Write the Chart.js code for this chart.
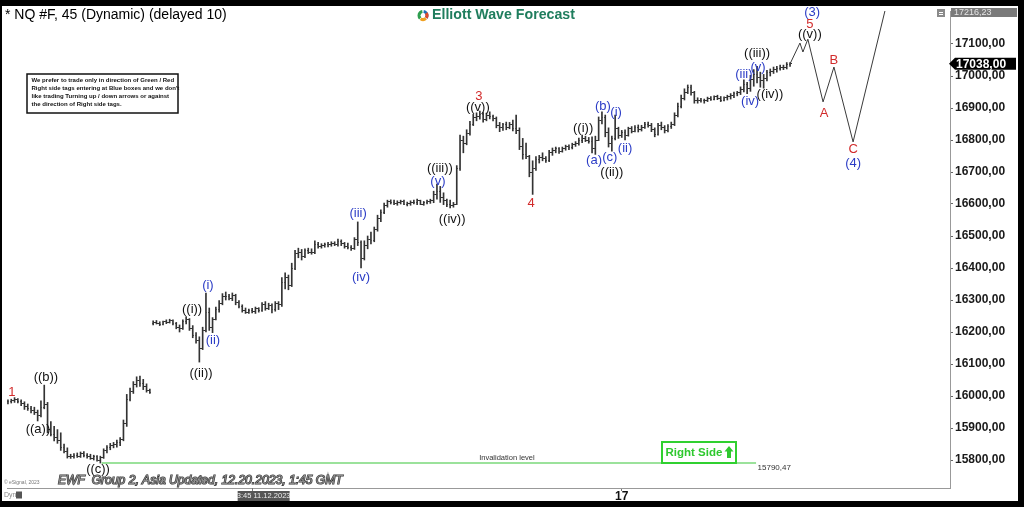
<!DOCTYPE html>
<html><head><meta charset="utf-8">
<script src="https://cdn.jsdelivr.net/npm/chart.js@4.4.0/dist/chart.umd.min.js"></script>
<style>
html,body{margin:0;padding:0;background:#000;width:1024px;height:507px;overflow:hidden}
#wrap{position:absolute;left:2px;top:6px;width:1016px;height:495px;background:#fff}
canvas{display:block}
</style></head><body>
<div id="wrap"><canvas id="c" width="1016" height="495"></canvas></div>
<script>
// ---- DATA (45-min OHLC bars, index = bar number) ----
const opens = [
15978,15982,15984,15986,15988,15984,15976,15968,15962,15955,
15948,15940,15965,15975,15895,15880,15870,15862,15840,15828,
15812,15812,15815,15810,15820,15814,15812,15806,15810,15800,
15808,15830,15838,15845,15848,15855,15865,15915,15990,16015,
16035,16050,16040,16030,16018,16228,16230,16228,16225,16232,
16230,16236,16226,16215,16210,16232,16240,16212,16190,16172,
16150,16205,16260,16215,16240,16270,16290,16310,16312,16305,
16315,16292,16280,16268,16262,16268,16265,16272,16266,16285,
16275,16282,16270,16288,16285,16355,16370,16345,16400,16445,
16450,16435,16455,16450,16448,16475,16468,16470,16472,16475,
16478,16474,16482,16476,16468,16465,16460,16488,16480,16430,
16470,16490,16485,16520,16555,16575,16595,16608,16606,16602,
16605,16608,16600,16602,16606,16604,16610,16600,16604,16608,
16610,16630,16640,16620,16610,16598,16595,16600,16710,16800,
16790,16820,16850,16870,16875,16880,16865,16878,16872,16866,
16845,16840,16848,16838,16850,16835,16830,16780,16755,16750,
16700,16710,16738,16745,16742,16735,16760,16768,16772,16765,
16775,16780,16776,16786,16790,16800,16805,16800,16795,16775,
16800,16860,16870,16825,16790,16805,16835,16815,16825,16815,
16835,16828,16838,16832,16840,16850,16845,16832,16818,16845,
16838,16830,16842,16850,16878,16905,16930,16950,16965,16950,
16922,16925,16922,16925,16930,16928,16935,16930,16925,16932,
16936,16940,16945,16948,16958,16975,16960,16990,17005,16995,
16985,16992,17010,17015,17020,17025,17028,17026,17035];
const highs = [
15988,15988,15990,15995,15992,15988,15982,15975,15968,15965,
15956,15985,16034,15980,15920,15905,15895,15885,15850,15838,
15818,15820,15822,15825,15826,15820,15818,15815,15814,15812,
15835,15845,15852,15855,15862,15870,15925,16005,16025,16045,
16060,16062,16052,16038,16022,16235,16236,16232,16234,16238,
16240,16238,16230,16222,16238,16248,16242,16220,16198,16185,
16215,16322,16275,16245,16278,16298,16320,16325,16318,16322,
16318,16298,16285,16275,16272,16274,16278,16276,16292,16295,
16290,16288,16295,16295,16370,16385,16378,16415,16455,16462,
16458,16460,16462,16460,16485,16480,16476,16478,16480,16482,
16482,16490,16488,16480,16478,16470,16495,16544,16485,16485,
16500,16512,16528,16565,16582,16603,16612,16613,16612,16610,
16612,16612,16606,16610,16612,16615,16612,16608,16612,16615,
16640,16662,16655,16635,16615,16612,16605,16720,16815,16812,
16832,16858,16880,16885,16890,16886,16884,16888,16878,16872,
16855,16852,16856,16855,16862,16878,16838,16805,16790,16752,
16735,16748,16752,16760,16748,16768,16775,16778,16776,16778,
16784,16785,16790,16795,16806,16815,16812,16808,16810,16812,
16872,16888,16878,16838,16812,16878,16840,16830,16832,16840,
16842,16845,16847,16846,16855,16856,16852,16838,16852,16856,
16845,16848,16856,16885,16915,16940,16960,16972,16972,16952,
16932,16930,16928,16934,16936,16938,16940,16936,16935,16940,
16945,16950,16952,16966,16988,16980,17002,17020,17030,17012,
17005,17018,17022,17028,17030,17034,17034,17042,17042];
const lows = [
15972,15975,15978,15980,15978,15970,15958,15955,15947,15942,
15922,15935,15960,15885,15875,15860,15852,15830,15822,15806,
15805,15806,15808,15808,15810,15806,15802,15800,15796,15790.47,
15805,15822,15832,15838,15840,15845,15860,15905,15985,16008,
16028,16030,16020,16012,16008,16222,16225,16220,16222,16226,
16228,16222,16210,16200,16208,16225,16205,16182,16165,16106,
16145,16200,16205,16198,16238,16262,16285,16300,16300,16298,
16285,16275,16262,16258,16258,16260,16258,16262,16264,16268,
16270,16260,16265,16270,16280,16335,16332,16342,16395,16432,
16425,16432,16445,16443,16445,16462,16462,16465,16466,16468,
16470,16468,16470,16462,16460,16455,16458,16470,16400,16425,
16460,16475,16482,16515,16545,16570,16590,16600,16598,16596,
16600,16598,16594,16596,16600,16598,16598,16596,16600,16602,
16604,16615,16605,16598,16592,16588,16590,16598,16705,16760,
16785,16815,16845,16860,16865,16856,16860,16866,16860,16838,
16826,16830,16832,16835,16828,16820,16770,16740,16742,16685,
16630,16705,16728,16735,16730,16732,16752,16760,16758,16762,
16768,16770,16772,16780,16784,16792,16795,16790,16760,16755,
16798,16850,16810,16778,16765,16800,16805,16808,16800,16812,
16822,16825,16825,16828,16836,16840,16826,16810,16815,16832,
16822,16825,16836,16845,16872,16900,16925,16945,16940,16915,
16915,16918,16915,16920,16924,16925,16926,16920,16922,16925,
16928,16932,16938,16942,16950,16945,16952,16968,16978,16965,
16962,16985,17000,17008,17012,17018,17020,17022,17030];
const closes = [
15982,15984,15986,15988,15984,15976,15968,15962,15955,15948,
15940,15965,15975,15895,15880,15870,15862,15840,15828,15812,
15812,15815,15810,15820,15814,15812,15806,15810,15800,15808,
15830,15838,15845,15848,15855,15865,15915,15990,16015,16035,
16050,16040,16030,16018,16012,16230,16228,16225,16232,16230,
16236,16226,16215,16210,16232,16240,16212,16190,16172,16150,
16205,16260,16215,16240,16270,16290,16310,16312,16305,16315,
16292,16280,16268,16262,16268,16265,16272,16266,16285,16275,
16282,16270,16288,16285,16355,16370,16345,16400,16445,16450,
16435,16455,16450,16448,16475,16468,16470,16472,16475,16478,
16474,16482,16476,16468,16465,16460,16488,16480,16430,16470,
16490,16485,16520,16555,16575,16595,16608,16606,16602,16605,
16608,16600,16602,16606,16604,16610,16600,16604,16608,16610,
16630,16640,16620,16610,16598,16595,16600,16710,16800,16790,
16820,16850,16870,16875,16880,16865,16878,16872,16866,16845,
16840,16848,16838,16850,16835,16830,16780,16755,16750,16700,
16710,16738,16745,16742,16735,16760,16768,16772,16765,16775,
16780,16776,16786,16790,16800,16805,16800,16795,16775,16800,
16860,16870,16825,16790,16805,16835,16815,16825,16815,16835,
16828,16838,16832,16840,16850,16845,16832,16818,16845,16838,
16830,16842,16850,16878,16905,16930,16950,16965,16950,16922,
16925,16922,16925,16930,16928,16935,16930,16925,16932,16936,
16940,16945,16948,16958,16975,16960,16990,17005,16995,16985,
16992,17010,17015,17020,17025,17028,17026,17035,17038];

const priceTicks = [15800,15900,16000,16100,16200,16300,16400,16500,16600,16700,16800,16900,17000,17100];
const dayTickIndex = [187];
const dayTickLabels = ['17'];
const cursorIndex = 75;
const cursorLabel = '3:45 11.12.2023';
const topPriceLabel = '17216,23';

// projected path (bar index, price)
const projIdx   = [238, 241, 241.9, 243.4, 248, 251.3, 257.1, 267.5];
const projPrice = [17038, 17103, 17075, 17115, 16919, 17028, 16794, 17235];

const invalidationLevel = 15790.47;
const invalidationSpan = [29.4, 227.7];

// wave labels: text, bar index, price
const waveLabels = [
 ['1',2.2,16012],['((b))',12.5,16059],['((a))',10.1,15894],['((c))',28.3,15772],
 ['((i))',56.8,16269],['(i)',61.6,16347],['(ii)',63.1,16175],['((ii))',59.5,16072],
 ['(iii)',107.1,16569],['(iv)',108,16369],['((iii))',131.9,16712],['(v)',131.3,16672],
 ['((iv))',135.6,16553],['3',143.7,16937],['((v))',143.4,16903],['4',159.5,16603],
 ['((i))',175.3,16837],['(a)',178.6,16737],['(b)',181.3,16906],['(c)',183.4,16744],
 ['((ii))',184,16700],['(i)',185.3,16887],['(ii)',188,16775],
 ['((iii))',228,17069],['(iii)',224,17006],['(v)',228.3,17028],['(iv)',225.9,16922],
 ['((iv))',231.9,16941],['(3)',244.7,17200],['5',244,17162],['((v))',244,17131],
 ['A',248.3,16884],['B',251.3,17050],['C',257.1,16769],['(4)',257.1,16728]
];

// ---- RENDER ----
const FAM = '"Liberation Sans", Arial, sans-serif';
const COL = {black:'#111', blue:'#2b3cc6', red:'#d22b2b', bar:'#333'};
Chart.defaults.font.family = FAM;

// axis calibration: price 17100 sits 38px below canvas top, 3.125 points per pixel;
// bar 0 sits 2.65px from canvas left, 3.3 px per bar
const Y_REF_PX = 38, Y_REF_VAL = 17100, PTS_PER_PX = 3.125;
const X_REF_PX = 2.65, PX_PER_BAR = 3.3;

function tickImg(side){
  const c = document.createElement('canvas'); c.width = 3; c.height = 1;
  const g = c.getContext('2d'); g.fillStyle = COL.bar;
  g.fillRect(side === 'left' ? 0 : 2, 0, 1, 1);
  return c;
}
const P = (x, y) => [x - 2, y - 6]; // page -> canvas

function fitSize(ctx, text, width, style){
  ctx.font = style + ' 20px ' + FAM;
  return 20 * width / ctx.measureText(text).width;
}

const decor = {
  id:'decor',
  afterDatasetsDraw(chart){
    const {ctx, scales:{x, y}} = chart;
    ctx.save();
    ctx.textAlign = 'center'; ctx.textBaseline = 'middle';
    ctx.font = '13px ' + FAM;
    for (const [t, i, p] of waveLabels){
      ctx.fillStyle = t.startsWith('((') ? COL.black : (t.startsWith('(') ? COL.blue : COL.red);
      ctx.fillText(t, x.getPixelForValue(i), y.getPixelForValue(p));
    }
    const ly = y.getPixelForValue(invalidationLevel);
    ctx.fillStyle = '#333';
    ctx.font = '7.5px ' + FAM;
    ctx.fillText('Invalidation level', x.getPixelForValue(152.2), ly - 5);
    ctx.textAlign = 'left';
    ctx.font = '8px ' + FAM;
    ctx.fillText(invalidationLevel.toFixed(2).replace('.', ','), x.getPixelForValue(invalidationSpan[1]) + 1.5, ly + 4.5);
    ctx.restore();
  },
  afterDraw(chart){
    const {ctx, scales:{x, y}} = chart;
    ctx.save();
    ctx.textBaseline = 'middle'; ctx.textAlign = 'left';
    // title
    ctx.fillStyle = '#000'; ctx.font = '14px ' + FAM;
    ctx.fillText('* NQ #F, 45 (Dynamic) (delayed 10)', ...P(5, 15));
    // logo
    const [lx, lyy] = P(423, 15.5);
    const arcs = [['#2e9e4f', Math.PI*0.75, Math.PI*1.45], ['#1e6fb8', Math.PI*1.55, Math.PI*2.2], ['#f0a020', Math.PI*0.25, Math.PI*0.7], ['#e04a2a', Math.PI*-0.2, Math.PI*0.2]];
    ctx.lineWidth = 3;
    for (const [c, a0, a1] of arcs){ ctx.strokeStyle = c; ctx.beginPath(); ctx.arc(lx, lyy, 4, a0, a1); ctx.stroke(); }
    ctx.fillStyle = '#1f7d5d';
    ctx.font = 'bold ' + fitSize(ctx, 'Elliott Wave Forecast', 143, 'bold') + 'px ' + FAM;
    ctx.fillText('Elliott Wave Forecast', ...P(432, 15.5));
    // disclaimer box
    ctx.strokeStyle = '#111'; ctx.lineWidth = 1.5;
    ctx.strokeRect(...P(27, 74), 151, 39);
    const lines = ['We prefer to trade only in direction of Green / Red',
      "Right side tags entering at Blue boxes and we don't",
      'like trading Turning up / down arrows or against',
      'the direction of Right side tags.'];
    const fs = fitSize(ctx, lines[0], 143, 'bold');
    ctx.fillStyle = '#111'; ctx.font = 'bold ' + fs + 'px ' + FAM;
    lines.forEach((t, k) => ctx.fillText(t, ...P(31.5, 80.5 + k * 8)));
    // Right Side box
    ctx.strokeStyle = '#30d030'; ctx.lineWidth = 2;
    ctx.strokeRect(...P(662, 442), 74, 21);
    ctx.fillStyle = '#2ec82e';
    ctx.font = 'bold ' + fitSize(ctx, 'Right Side', 57, 'bold') + 'px ' + FAM;
    ctx.fillText('Right Side', ...P(665.5, 452.5));
    ctx.beginPath();
    ctx.moveTo(...P(729, 446)); ctx.lineTo(...P(733.5, 451.5)); ctx.lineTo(...P(731, 451.5));
    ctx.lineTo(...P(731, 458)); ctx.lineTo(...P(727, 458)); ctx.lineTo(...P(727, 451.5));
    ctx.lineTo(...P(724.5, 451.5)); ctx.closePath(); ctx.fill();
    // footer
    const ft = 'EWF  Group 2, Asia Updated, 12.20.2023, 1:45 GMT';
    ctx.font = 'italic ' + fitSize(ctx, ft, 285, 'italic') + 'px ' + FAM;
    ctx.lineWidth = 1.2; ctx.strokeStyle = '#333'; ctx.fillStyle = '#8a8a8a';
    ctx.strokeText(ft, ...P(58, 481)); ctx.fillText(ft, ...P(58, 481));
    ctx.fillStyle = '#777'; ctx.font = '5px ' + FAM;
    ctx.fillText('\u00a9 eSignal, 2023', ...P(4, 483));
    // Dyn
    ctx.fillStyle = '#888'; ctx.font = '7px ' + FAM;
    ctx.fillText('Dyn', ...P(4, 495));
    ctx.fillStyle = '#555'; ctx.fillRect(...P(16, 491.5), 6, 7);
    // cursor time tag
    const cx = x.getPixelForValue(cursorIndex);
    ctx.strokeStyle = '#777'; ctx.lineWidth = 1;
    ctx.beginPath(); ctx.moveTo(Math.round(cx) + 0.5, y.bottom); ctx.lineTo(Math.round(cx) + 0.5, y.bottom + 3); ctx.stroke();
    ctx.fillStyle = '#555'; ctx.fillRect(cx - 14.5, y.bottom + 3, 52, 10);
    ctx.fillStyle = '#eee'; ctx.font = '7.5px ' + FAM; ctx.textAlign = 'center';
    ctx.fillText(cursorLabel, cx + 11.5, y.bottom + 8.2);
    // right axis tags
    ctx.textAlign = 'left';
    const ax = y.left;
    ctx.fillStyle = '#7a7a7a'; ctx.fillRect(ax + 1, 2, 66, 9);
    ctx.fillStyle = '#e6e6e6'; ctx.font = '9px ' + FAM;
    ctx.fillText(topPriceLabel, ax + 4, 6.8);
    ctx.fillStyle = '#8a8a8a'; ctx.fillRect(...P(937, 9), 8, 8);
    ctx.fillStyle = '#fff'; ctx.fillRect(...P(939, 12), 4, 1); ctx.fillRect(...P(939, 14), 4, 1);
    const cy = y.getPixelForValue(closes[closes.length - 1]);
    ctx.fillStyle = '#000';
    ctx.beginPath(); ctx.moveTo(ax - 1, cy); ctx.lineTo(ax + 5, cy - 6); ctx.lineTo(ax + 66, cy - 6);
    ctx.lineTo(ax + 66, cy + 6); ctx.lineTo(ax + 5, cy + 6); ctx.closePath(); ctx.fill();
    ctx.fillStyle = '#fff'; ctx.font = 'bold 12px ' + FAM;
    ctx.fillText(closes[closes.length - 1].toFixed(2).replace('.', ','), ax + 6, cy + 0.5);
    ctx.restore();
  }
};

const idx = opens.map((_, i) => i);
const chart = new Chart(document.getElementById('c'), {
  type:'bar',
  data:{ datasets:[
    { type:'line', data: projIdx.map((v, k) => ({x:v, y:projPrice[k]})), borderColor:'#3a3a3a', borderWidth:1,
      pointRadius:0, tension:0, order:0 },
    { type:'line', data: invalidationSpan.map(v => ({x:v, y:invalidationLevel})), borderColor:'#7ad87a', borderWidth:1.5,
      pointRadius:0, order:1 },
    { type:'line', data: idx.map(i => ({x:i, y:opens[i]})), showLine:false, pointStyle:tickImg('left'), pointRadius:1, order:2 },
    { type:'line', data: idx.map(i => ({x:i, y:closes[i]})), showLine:false, pointStyle:tickImg('right'), pointRadius:1, order:3 },
    { type:'bar', data: idx.map(i => ({x:i, y:[lows[i], highs[i]]})), backgroundColor:COL.bar, borderWidth:0,
      barThickness:1, grouped:false, order:4 }
  ]},
  options:{
    responsive:false, animation:false, events:[], devicePixelRatio:1,
    layout:{ padding:{ left:1, top:1, right:0, bottom:0 } },
    plugins:{ legend:{display:false}, tooltip:{enabled:false} },
    scales:{
      x:{ type:'linear', min:-0.5, max:286.5, offset:false,
        grid:{ display:true, drawOnChartArea:false, drawTicks:true, tickLength:3, color:'#777', offset:false },
        border:{ display:true, color:'#999', width:1 },
        afterBuildTicks: s => { s.ticks = dayTickIndex.map(v => ({value:v})); },
        afterFit: s => { s.height = 13; s.paddingLeft = 0; s.paddingRight = 0; },
        ticks:{ autoSkip:false, maxRotation:0, padding:-2, color:'#111', font:{ size:12, weight:'bold' },
          callback: (v, i) => dayTickLabels[i] }
      },
      y:{ type:'linear', position:'right', min:15712.5, max:17215.6,
        grid:{ display:true, drawOnChartArea:false, drawTicks:true, tickLength:3, color:'#666' },
        border:{ display:true, color:'#999', width:1 },
        afterBuildTicks: s => { s.ticks = priceTicks.map(v => ({value:v})); },
        afterFit: s => { s.width = 68; s.paddingTop = 0; s.paddingBottom = 0; },
        ticks:{ padding:2, color:'#1a1a1a', font:{ size:12, weight:'bold' },
          callback: v => v.toFixed(2).replace('.', ',') }
      }
    }
  },
  plugins:[decor]
});
// calibrate axis limits to the actual plotting area
const a = chart.chartArea;
chart.options.scales.y.max = Y_REF_VAL + (Y_REF_PX - a.top) * PTS_PER_PX;
chart.options.scales.y.min = Y_REF_VAL - (a.bottom - Y_REF_PX) * PTS_PER_PX;
chart.options.scales.x.min = -(X_REF_PX - a.left) / PX_PER_BAR;
chart.options.scales.x.max = (a.right - X_REF_PX) / PX_PER_BAR;
chart.update();
</script>
</body></html>
